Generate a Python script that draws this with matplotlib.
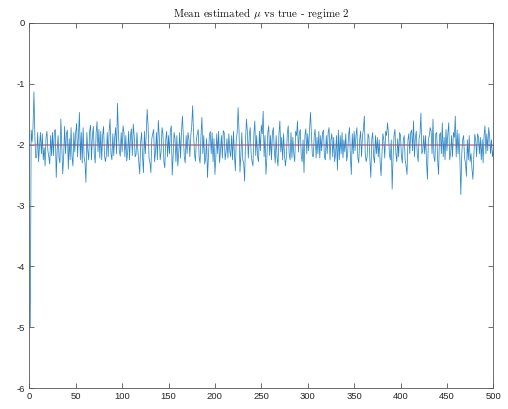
import numpy as np
import matplotlib
matplotlib.use("Agg")
import matplotlib.pyplot as plt

plt.rcParams['axes.unicode_minus'] = False
plt.rcParams['mathtext.fontset'] = 'cm'

# estimated mean for each iteration (regime 2)
mu_est = [
    -5.00, -1.76, -1.95, -1.70, -1.13, -1.88, -2.22, -2.20, -1.80, -2.28, -2.02, -1.80, -2.15, -1.82, -2.25, -2.05, -2.35, -1.88, -1.78, -2.10, -2.20, -2.32, -1.85, -2.18, -1.80,
    -2.18, -1.78, -1.75, -2.54, -2.10, -1.85, -2.22, -2.30, -1.58, -2.02, -2.48, -2.20, -1.70, -2.15, -1.82, -1.76, -2.40, -1.90, -2.25, -1.72, -2.20, -2.35, -1.80, -2.12, -1.80,
    -1.65, -2.20, -1.85, -1.47, -2.25, -1.80, -2.30, -1.72, -2.20, -2.30, -2.62, -1.80, -2.10, -2.25, -1.78, -1.68, -2.25, -1.85, -1.70, -2.15, -2.30, -1.80, -1.62, -2.12, -1.75,
    -2.22, -1.78, -2.25, -1.85, -1.70, -2.18, -2.28, -2.18, -1.80, -2.20, -1.78, -1.58, -2.15, -2.25, -1.82, -2.18, -1.88, -1.72, -2.15, -1.32, -1.80, -2.10, -2.19, -1.80, -2.12,
    -1.69, -1.80, -2.20, -1.85, -2.27, -2.12, -1.78, -2.25, -1.85, -1.74, -2.18, -1.66, -1.85, -2.20, -2.16, -1.80, -2.10, -2.28, -2.48, -1.95, -1.80, -2.20, -2.46, -1.78, -2.15,
    -1.82, -1.42, -1.70, -2.22, -2.30, -2.46, -1.90, -1.82, -1.75, -2.28, -2.12, -1.80, -2.25, -1.60, -1.85, -2.25, -2.12, -1.72, -1.82, -2.28, -2.38, -1.92, -1.78, -2.20, -1.85,
    -2.15, -1.76, -1.69, -2.50, -2.18, -1.80, -1.90, -2.28, -1.85, -2.35, -2.15, -1.80, -2.22, -1.78, -1.53, -1.88, -2.20, -2.30, -1.85, -2.15, -1.80, -1.92, -2.20, -1.85, -1.70,
    -1.36, -1.82, -2.15, -2.27, -1.92, -1.82, -1.75, -2.22, -2.30, -1.85, -1.55, -2.15, -1.85, -2.32, -2.22, -1.90, -2.54, -2.20, -1.85, -1.78, -2.15, -1.80, -2.28, -1.90, -2.49,
    -2.20, -1.82, -2.15, -1.78, -2.30, -2.10, -1.85, -2.22, -1.77, -1.80, -2.25, -2.12, -1.90, -2.22, -1.82, -2.10, -2.20, -1.85, -2.25, -1.78, -2.15, -2.43, -1.92, -1.80, -1.39,
    -1.78, -2.45, -2.15, -1.80, -2.25, -2.30, -2.60, -1.92, -1.58, -1.80, -2.22, -1.85, -1.72, -2.15, -2.28, -2.35, -1.82, -1.61, -2.18, -1.85, -2.20, -2.28, -1.78, -2.10, -1.68,
    -1.82, -1.45, -2.20, -1.85, -2.49, -2.20, -1.80, -1.69, -2.18, -1.85, -2.25, -1.80, -1.72, -2.10, -2.30, -1.85, -2.22, -2.35, -1.82, -1.61, -2.12, -1.88, -2.25, -1.82, -2.18,
    -2.35, -2.20, -1.82, -1.69, -2.15, -2.25, -1.80, -2.22, -1.88, -2.15, -2.28, -1.78, -1.85, -1.61, -2.12, -1.80, -1.75, -2.18, -2.28, -1.92, -2.46, -1.85, -1.74, -2.15, -1.82,
    -2.10, -1.75, -1.47, -1.82, -2.18, -2.20, -1.85, -1.75, -2.22, -1.88, -2.15, -1.78, -2.22, -1.85, -2.10, -1.80, -1.76, -2.20, -2.25, -1.85, -2.15, -1.80, -1.72, -2.25, -1.92,
    -1.82, -2.20, -1.88, -2.28, -2.15, -1.85, -2.42, -1.76, -2.25, -1.85, -2.15, -1.80, -2.22, -1.92, -2.12, -1.82, -2.27, -2.15, -1.85, -1.72, -2.20, -2.49, -1.82, -2.15, -1.78,
    -2.10, -1.85, -1.72, -2.22, -2.30, -1.92, -1.78, -2.20, -1.85, -1.75, -1.53, -2.15, -2.28, -2.20, -1.82, -1.88, -2.25, -2.54, -1.92, -1.80, -2.20, -2.30, -1.85, -2.15, -1.88,
    -2.20, -1.92, -2.28, -2.51, -2.15, -1.82, -1.92, -2.22, -1.78, -1.85, -1.64, -1.82, -2.15, -2.25, -1.92, -2.73, -2.20, -1.85, -1.75, -2.15, -2.28, -1.90, -2.20, -1.80, -1.85,
    -2.20, -2.30, -1.92, -1.85, -2.25, -2.35, -2.49, -1.92, -1.82, -2.15, -1.80, -1.76, -2.10, -1.61, -2.20, -1.88, -1.78, -2.15, -2.28, -1.90, -1.82, -1.48, -2.15, -2.10, -1.85,
    -2.15, -1.85, -2.28, -2.57, -1.92, -1.85, -1.72, -1.78, -2.15, -1.58, -2.20, -2.28, -1.82, -1.80, -2.25, -2.49, -1.85, -1.80, -2.15, -1.64, -2.20, -1.88, -2.25, -1.75, -2.10,
    -1.82, -1.64, -2.25, -2.15, -1.85, -2.20, -1.80, -1.88, -1.53, -2.20, -1.76, -2.15, -1.82, -2.25, -2.82, -2.15, -1.92, -1.85, -2.22, -2.30, -2.52, -1.92, -2.25, -1.85, -2.28,
    -2.15, -2.40, -2.57, -2.20, -1.83, -1.92, -2.20, -1.82, -1.88, -2.15, -1.88, -2.25, -1.92, -2.30, -1.85, -1.69, -2.15, -1.82, -2.10, -1.72, -1.85, -2.15, -1.92, -2.20, -2.08,
]
mu_true = -2.0
x_ticks = [0, 50, 100, 150, 200, 250, 300, 350, 400, 450, 500]
y_ticks = [0, -1, -2, -3, -4, -5, -6]

iters = np.arange(1, len(mu_est) + 1)

fig = plt.figure(figsize=(5.08, 4.09), dpi=100)
ax = fig.add_axes([0.0577, 0.0513, 0.9134, 0.8925])

ax.plot([0, 500], [mu_true, mu_true], color='#f07070', lw=1.1)
ax.plot(iters, mu_est, color='#2a86c8', lw=0.55)

ax.set_xlim(0, 500)
ax.set_ylim(-6, 0)
ax.set_xticks(x_ticks)
ax.set_yticks(y_ticks)

for s in ax.spines.values():
    s.set_color('#555555')
    s.set_linewidth(0.6)
ax.tick_params(direction='in', length=3.5, width=0.6, colors='#555555',
               labelcolor='#262626', top=True, right=True, labelsize=6.8, pad=3)
for lab in ax.get_xticklabels() + ax.get_yticklabels():
    lab.set_fontfamily('Liberation Sans')

ax.set_title(r'Mean estimated $\mu$ vs true - regime 2', fontname='cmr10',
             fontsize=7.9, color='#111111', pad=4)

fig.savefig('out.png', dpi=100)
